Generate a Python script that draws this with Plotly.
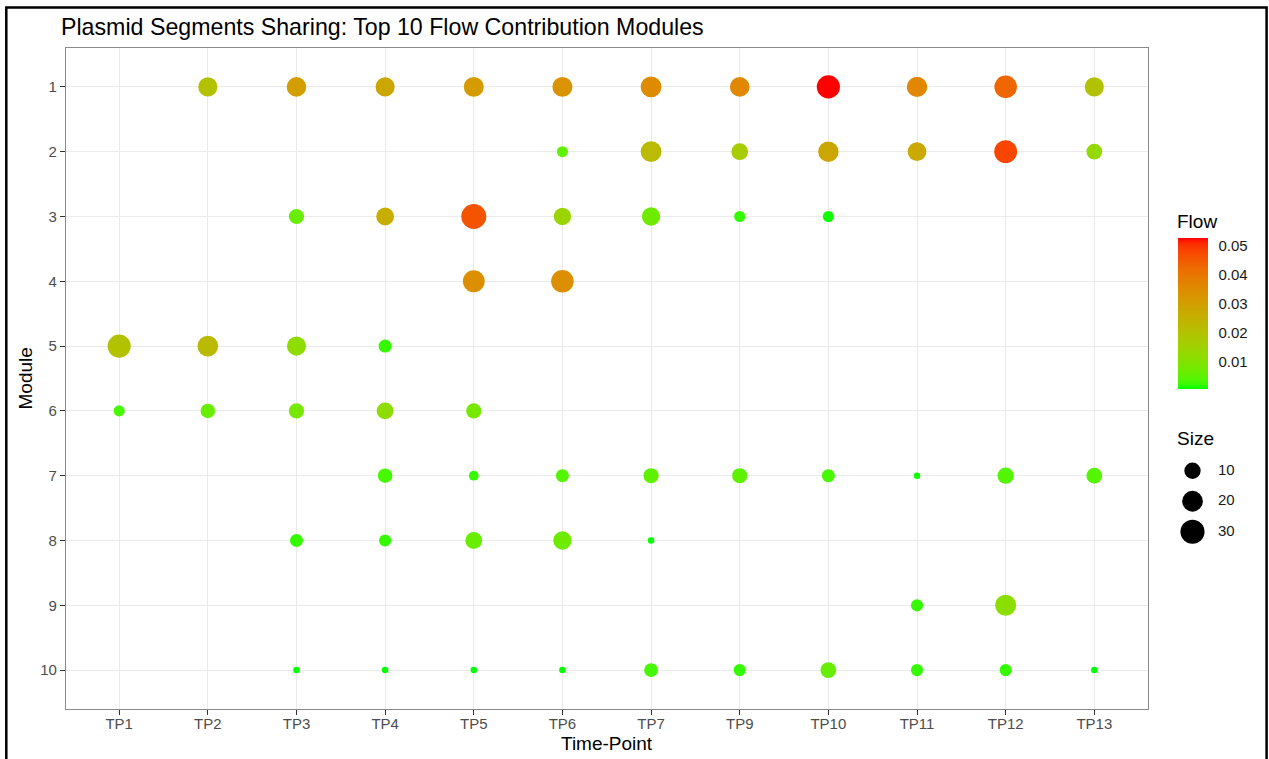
import numpy as np
import plotly.graph_objects as go

W, H = 1269, 759          # picture size = figure size (page margin removed below)
FONT = "Liberation Sans, Arial, sans-serif"

# ---------------- data ----------------
time_points = ["TP1", "TP2", "TP3", "TP4", "TP5", "TP6", "TP7", "TP9", "TP10", "TP11", "TP12", "TP13"]
modules = ["1", "2", "3", "4", "5", "6", "7", "8", "9", "10"]

point_module = (["1"] * 11 + ["2"] * 7 + ["3"] * 7 + ["4"] * 2 + ["5"] * 4 +
                ["6"] * 5 + ["7"] * 9 + ["8"] * 5 + ["9"] * 2 + ["10"] * 10)
point_tp = [
    "TP2", "TP3", "TP4", "TP5", "TP6", "TP7", "TP9", "TP10", "TP11", "TP12", "TP13",
    "TP6", "TP7", "TP9", "TP10", "TP11", "TP12", "TP13",
    "TP3", "TP4", "TP5", "TP6", "TP7", "TP9", "TP10",
    "TP5", "TP6",
    "TP1", "TP2", "TP3", "TP4",
    "TP1", "TP2", "TP3", "TP4", "TP5",
    "TP4", "TP5", "TP6", "TP7", "TP9", "TP10", "TP11", "TP12", "TP13",
    "TP3", "TP4", "TP5", "TP6", "TP7",
    "TP11", "TP12",
    "TP3", "TP4", "TP5", "TP6", "TP7", "TP9", "TP10", "TP11", "TP12", "TP13",
]
point_flow = [
    0.020, 0.030, 0.028, 0.031, 0.033, 0.035, 0.036, 0.0527, 0.036, 0.043, 0.020,
    0.005, 0.022, 0.017, 0.028, 0.027, 0.048, 0.013,
    0.006, 0.026, 0.046, 0.014, 0.007, 0.002, 0.001,
    0.034, 0.034,
    0.020, 0.022, 0.012, 0.002,
    0.003, 0.006, 0.008, 0.012, 0.008,
    0.003, 0.002, 0.004, 0.005, 0.005, 0.003, 0.001, 0.004, 0.004,
    0.002, 0.002, 0.006, 0.007, 0.0005,
    0.002, 0.011,
    0.0005, 0.0005, 0.0005, 0.0005, 0.003, 0.002, 0.006, 0.002, 0.002, 0.0005,
]
point_size = [
    16, 17, 16, 18, 18, 20, 17, 27, 19, 25, 16,
    3, 20, 11, 19, 15, 26, 9,
    8, 13, 33, 12, 14, 3, 3,
    23, 25,
    27, 20, 16, 5,
    3, 7, 8, 11, 8,
    7, 2, 5, 8, 8, 5, 1, 10, 9,
    5, 4, 11, 14, 1,
    4, 21,
    1, 1, 1, 1, 6, 4, 9, 4, 4, 1,
]
legend_sizes = [10, 20, 30]
flow_ticks = [0.01, 0.02, 0.03, 0.04, 0.05]

# ---------------- scales ----------------
S_MIN, S_MAX = min(point_size), max(point_size)
D_MIN, D_MAX = 6.5, 25.0


def size_to_px(v):
    t = (np.asarray(v, dtype=float) - S_MIN) / (S_MAX - S_MIN)
    t = np.clip(t, 0, 1)
    return D_MIN + (D_MAX - D_MIN) * np.sqrt(t)


M = np.array([[0.4124564, 0.3575761, 0.1804375],
              [0.2126729, 0.7151522, 0.0721750],
              [0.0193339, 0.1191920, 0.9503041]])
WHITE = np.array([0.95047, 1.0, 1.08883])
DL = 6 / 29


def srgb_to_lab(rgb):
    c = np.array(rgb, dtype=float) / 255.0
    lin = np.where(c <= 0.04045, c / 12.92, ((c + 0.055) / 1.055) ** 2.4)
    xyz = (M @ lin) / WHITE
    f = np.where(xyz > DL ** 3, np.cbrt(xyz), xyz / (3 * DL * DL) + 4 / 29)
    return np.array([116 * f[1] - 16, 500 * (f[0] - f[1]), 200 * (f[1] - f[2])])


def lab_to_srgb(lab):
    L, a, b = lab
    fy = (L + 16) / 116
    f = np.array([fy + a / 500, fy, fy - b / 200])
    xyz = np.where(f > DL, f ** 3, 3 * DL * DL * (f - 4 / 29)) * WHITE
    lin = np.clip(np.linalg.inv(M) @ xyz, 0, 1)
    c = np.where(lin <= 0.0031308, 12.92 * lin, 1.055 * lin ** (1 / 2.4) - 0.055)
    r, g, bb = [int(round(v * 255)) for v in c]
    return f"rgb({r},{g},{bb})"


lab_lo = srgb_to_lab((0, 255, 0))
lab_hi = srgb_to_lab((255, 0, 0))
colorscale = [[t, lab_to_srgb(lab_lo + (lab_hi - lab_lo) * t)] for t in np.linspace(0, 1, 31)]

# ---------------- geometry helpers (picture pixels -> paper) ----------------
px_x = lambda p: p / W
px_y = lambda p: 1 - p / H

PANEL_L, PANEL_R, PANEL_T, PANEL_B = 66, 1147.5, 48, 709
CB_L, CB_T, CB_LEN, CB_W = 1177.5, 238.3, 151, 30
F_MIN, F_MAX = min(point_flow), max(point_flow)

fig = go.Figure()
fig.add_trace(go.Scatter(
    x=point_tp, y=point_module, mode="markers",
    marker=dict(size=size_to_px(point_size), color=point_flow, coloraxis="coloraxis",
                line=dict(width=0), opacity=1),
    showlegend=False, hoverinfo="x+y",
))

# size legend glyphs
fig.add_trace(go.Scatter(
    x=[0.275] * len(legend_sizes), y=list(range(len(legend_sizes))),
    mode="markers", marker=dict(size=size_to_px(legend_sizes), color="black",
                                line=dict(width=0), opacity=1),
    xaxis="x2", yaxis="y2", showlegend=False, hoverinfo="skip",
))
fig.add_trace(go.Scatter(
    x=[0.7] * len(legend_sizes), y=list(range(len(legend_sizes))),
    mode="text", text=[str(s) for s in legend_sizes], textposition="middle right",
    textfont=dict(family=FONT, size=15, color="#1A1A1A"),
    xaxis="x2", yaxis="y2", showlegend=False, hoverinfo="skip",
))

axis_common = dict(
    type="category", showgrid=True, gridcolor="#EBEBEB", gridwidth=1.3,
    ticks="outside", ticklen=5, tickwidth=1.2, tickcolor="#333333",
    tickfont=dict(family=FONT, size=15, color="#4D4D4D"),
    showline=True, linecolor="#8A8A8A", linewidth=1.2, mirror=True,
    zeroline=False, automargin=False, fixedrange=True,
)

# white tick marks inside the colour bar (both sides), placed by the colour scale
cb_shapes = []
for v in flow_ticks:
    yp = CB_T + (F_MAX - v) / (F_MAX - F_MIN) * CB_LEN
    for xa, xb in ((CB_L, CB_L + 6), (CB_L + CB_W - 6, CB_L + CB_W)):
        cb_shapes.append(dict(type="line", xref="paper", yref="paper",
                              x0=px_x(xa), x1=px_x(xb), y0=px_y(yp), y1=px_y(yp),
                              line=dict(color="white", width=1), layer="above"))

fig.update_layout(
    width=W, height=H, template="none",
    margin=dict(l=0, r=0, t=0, b=0, pad=0),
    paper_bgcolor="white", plot_bgcolor="white",
    font=dict(family=FONT, color="black"),
    xaxis=dict(axis_common, categoryorder="array", categoryarray=time_points,
               range=[-0.6, len(time_points) - 0.4], ticklabelstandoff=-4,
               domain=[px_x(PANEL_L), px_x(PANEL_R)], anchor="y"),
    yaxis=dict(axis_common, categoryorder="array", categoryarray=modules,
               range=[len(modules) - 0.4, -0.6],
               domain=[px_y(PANEL_B), px_y(PANEL_T)], anchor="x"),
    xaxis2=dict(domain=[px_x(1176), px_x(1236)], range=[0, 1], visible=False,
                anchor="y2", fixedrange=True),
    yaxis2=dict(domain=[px_y(547), px_y(455.5)], range=[2.5, -0.5], visible=False,
                anchor="x2", fixedrange=True),
    coloraxis=dict(
        colorscale=colorscale, cmin=F_MIN, cmax=F_MAX,
        colorbar=dict(
            x=px_x(CB_L), xanchor="left", y=px_y(CB_T), yanchor="top",
            len=CB_LEN, lenmode="pixels", thickness=CB_W, thicknessmode="pixels",
            xpad=0, ypad=0, outlinewidth=0,
            tickvals=flow_ticks, ticktext=[f"{v:.2f}" for v in flow_ticks],
            ticks="outside", ticklen=8, tickcolor="rgba(0,0,0,0)", tickwidth=1,
            tickfont=dict(family=FONT, size=15, color="#1A1A1A"),
            title=dict(text=""),
        ),
    ),
    showlegend=False,
    shapes=[dict(type="rect", xref="paper", yref="paper",
                 x0=px_x(6.3), x1=px_x(1266.6), y0=px_y(766), y1=px_y(7.5),
                 line=dict(color="black", width=2.5), fillcolor="rgba(0,0,0,0)", layer="above")]
           + cb_shapes,
    annotations=[
        dict(text="Plasmid Segments Sharing: Top 10 Flow Contribution Modules",
             x=px_x(59), y=px_y(27), xref="paper", yref="paper", xanchor="left", yanchor="middle",
             showarrow=False, font=dict(family=FONT, size=23.2, color="black")),
        dict(text="Time-Point", x=px_x((PANEL_L + PANEL_R) / 2), y=px_y(743), xref="paper", yref="paper",
             xanchor="center", yanchor="middle", showarrow=False,
             font=dict(family=FONT, size=19, color="black")),
        dict(text="Module", x=px_x(25), y=px_y((PANEL_T + PANEL_B) / 2), xref="paper", yref="paper",
             xanchor="center", yanchor="middle", textangle=-90, showarrow=False,
             font=dict(family=FONT, size=19, color="black")),
        dict(text="Flow", x=px_x(1175), y=px_y(221), xref="paper", yref="paper",
             xanchor="left", yanchor="middle", showarrow=False,
             font=dict(family=FONT, size=19, color="black")),
        dict(text="Size", x=px_x(1175), y=px_y(438), xref="paper", yref="paper",
             xanchor="left", yanchor="middle", showarrow=False,
             font=dict(family=FONT, size=19, color="black")),
    ],
)

fig.write_html(
    "out.html",
    config={"displayModeBar": False},
    post_script="document.body.style.margin='0px';document.body.style.overflow='hidden';",
)
